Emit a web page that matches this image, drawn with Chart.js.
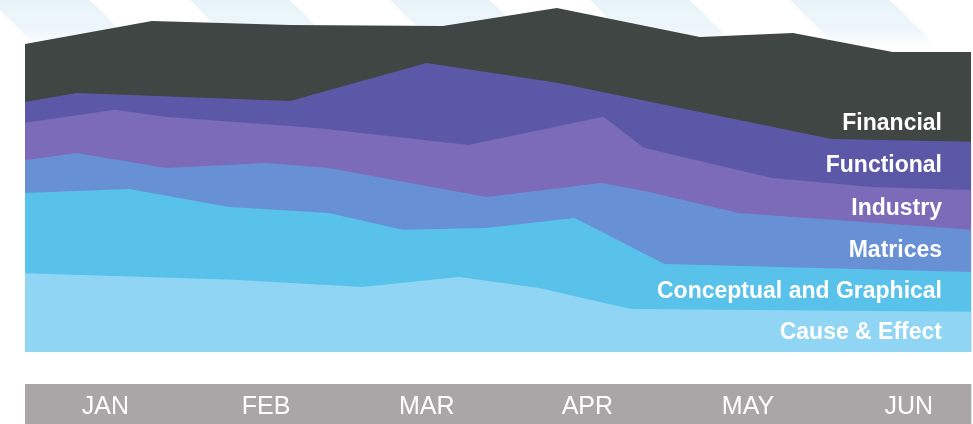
<!DOCTYPE html>
<html>
<head>
<meta charset="utf-8">
<script src="https://cdn.jsdelivr.net/npm/chart.js@4.4.0/dist/chart.umd.min.js"></script>
<style>
  html, body { margin: 0; padding: 0; background: #fff; overflow: hidden; }
  #wrap { width: 973px; height: 424px; }
</style>
</head>
<body>
<div id="wrap"><canvas id="myChart" width="973" height="424"></canvas></div>
<script>
// month bands along the bottom
var months = ['JAN', 'FEB', 'MAR', 'APR', 'MAY', 'JUN'];

// layer names, top label first
var layerNames = ['Financial', 'Functional', 'Industry', 'Matrices', 'Conceptual and Graphical', 'Cause & Effect'];
var layerColors = ['#3f4644', '#5b59a7', '#7b6bb9', '#6891d5', '#59c2eb', '#90d6f4'];

// upper edge of each layer (x in months from the start of JAN, y in share units 0-100)
var financialTop = [
    {x: 0, y: 87.5}, {x: 0.79, y: 94.0}, {x: 1.65, y: 92.9}, {x: 2.60, y: 92.6},
    {x: 3.31, y: 97.7}, {x: 4.20, y: 89.5}, {x: 4.78, y: 90.6}, {x: 5.40, y: 85.2}, {x: 5.89, y: 85.2}
];
var functionalTop = [
    {x: 0, y: 71.0}, {x: 0.32, y: 73.6}, {x: 1.65, y: 71.3}, {x: 2.50, y: 82.1},
    {x: 3.32, y: 76.4}, {x: 5.02, y: 60.5}, {x: 5.89, y: 59.7}
];
var industryTop = [
    {x: 0, y: 65.1}, {x: 0.56, y: 68.8}, {x: 0.87, y: 66.8}, {x: 1.83, y: 63.6},
    {x: 2.76, y: 58.8}, {x: 3.60, y: 66.8}, {x: 3.85, y: 58.0}, {x: 4.65, y: 49.4},
    {x: 5.27, y: 46.9}, {x: 5.89, y: 46.0}
];
var matricesTop = [
    {x: 0, y: 54.5}, {x: 0.32, y: 56.5}, {x: 0.88, y: 52.3}, {x: 1.50, y: 53.7},
    {x: 1.89, y: 52.3}, {x: 2.87, y: 44.0}, {x: 3.59, y: 48.0}, {x: 3.88, y: 45.5},
    {x: 4.44, y: 39.5}, {x: 5.89, y: 34.7}
];
var conceptualTop = [
    {x: 0, y: 45.2}, {x: 0.65, y: 46.3}, {x: 1.27, y: 41.2}, {x: 1.89, y: 39.5},
    {x: 2.35, y: 34.7}, {x: 2.87, y: 35.2}, {x: 3.42, y: 38.1}, {x: 3.98, y: 25.0}, {x: 5.89, y: 22.7}
];
var causeTop = [
    {x: 0, y: 22.4}, {x: 0.75, y: 21.3}, {x: 1.30, y: 20.5}, {x: 2.10, y: 18.5},
    {x: 2.70, y: 21.3}, {x: 3.20, y: 18.2}, {x: 3.77, y: 12.2}, {x: 5.89, y: 11.4}
];

var layerData = [financialTop, functionalTop, industryTop, matricesTop, conceptualTop, causeTop];

// dataset 0 is painted last, so put the lowest layer first
var datasets = [];
for (var i = layerData.length - 1; i >= 0; i--) {
    datasets.push({
        label: layerNames[i],
        data: layerData[i],
        backgroundColor: layerColors[i],
        borderWidth: 0,
        pointRadius: 0,
        fill: 'origin',
        tension: 0
    });
}

var background = {
    id: 'background',
    beforeDraw: function (chart) {
        var ctx = chart.ctx;
        var w = chart.width;
        var area = chart.chartArea;
        var xs = chart.scales.x;

        // very pale diagonal stripes behind the top edge
        ctx.save();
        ctx.beginPath();
        ctx.rect(0, 0, w, 60);
        ctx.clip();
        ctx.fillStyle = '#e6f3f9';
        for (var c = 40 - 200; c < w + 200; c += 200) {
            ctx.beginPath();
            ctx.moveTo(c - 50, 0);
            ctx.lineTo(c + 50, 0);
            ctx.lineTo(c + 110, 60);
            ctx.lineTo(c + 10, 60);
            ctx.fill();
        }
        var g = ctx.createLinearGradient(0, 0, 0, 60);
        g.addColorStop(0, 'rgba(255,255,255,0.1)');
        g.addColorStop(0.5, 'rgba(255,255,255,0.3)');
        g.addColorStop(0.8, 'rgba(255,255,255,1)');
        g.addColorStop(1, 'rgba(255,255,255,1)');
        ctx.fillStyle = g;
        ctx.fillRect(0, 0, w, 60);
        ctx.restore();

        // grey month bar
        ctx.save();
        ctx.fillStyle = '#aaa6a8';
        ctx.fillRect(area.left, xs.top + 32, area.right - area.left, xs.bottom - xs.top - 32);
        ctx.restore();
    }
};

var layerLabels = {
    id: 'layerLabels',
    afterDatasetsDraw: function (chart) {
        var ctx = chart.ctx;
        var area = chart.chartArea;
        var baselines = [130, 172, 215, 257, 298, 339];
        ctx.save();
        ctx.font = 'bold 23px "Liberation Sans", Arial, sans-serif';
        ctx.fillStyle = '#ffffff';
        ctx.textAlign = 'right';
        ctx.textBaseline = 'alphabetic';
        for (var i = 0; i < layerNames.length; i++) {
            ctx.fillText(layerNames[i], area.left + 917, area.top + baselines[i]);
        }
        ctx.restore();
    }
};

var ctx = document.getElementById('myChart').getContext('2d');
var myChart = new Chart(ctx, {
    type: 'line',
    data: { datasets: datasets },
    plugins: [background, layerLabels],
    options: {
        responsive: false,
        animation: false,
        layout: { padding: { left: 25, top: 0, right: 0, bottom: 0 } },
        plugins: {
            legend: { display: false },
            tooltip: { enabled: false }
        },
        scales: {
            x: {
                type: 'linear',
                min: 0,
                max: 5.89,
                grid: { display: false, drawTicks: false },
                border: { display: false },
                afterBuildTicks: function (scale) {
                    scale.ticks = months.map(function (m, i) { return { value: i + 0.5 }; });
                },
                afterFit: function (scale) { scale.height = 72; },
                ticks: {
                    autoSkip: false,
                    maxRotation: 0,
                    padding: 40,
                    color: '#ffffff',
                    font: { family: '"Liberation Sans", Arial, sans-serif', size: 25 },
                    callback: function (value) { return months[Math.floor(value)]; }
                }
            },
            y: {
                display: false,
                min: 0,
                max: 100
            }
        }
    }
});
</script>
</body>
</html>
